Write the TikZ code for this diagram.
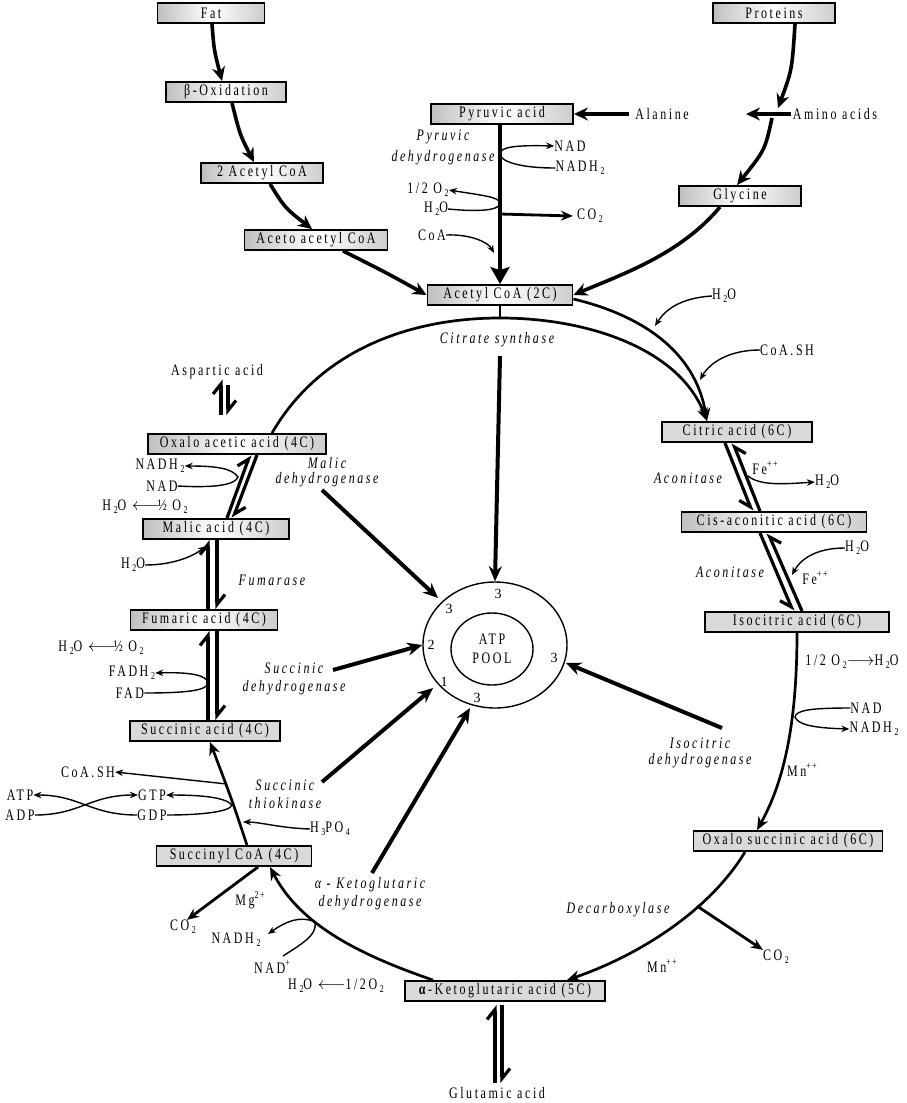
\documentclass[tikz,border=0pt]{standalone}
\usepackage{fontspec}
\setmainfont{Liberation Serif}[FakeStretch=0.75,LetterSpace=16]
\newfontfamily\numfont{Liberation Serif}
\usetikzlibrary{arrows.meta,shapes.geometric,calc}
\newcommand\mfs{\fontsize{16}{16}\selectfont}
\newcommand\lowtxt[1]{\,\raisebox{-0.45ex}{\fontsize{10.5}{10}\selectfont #1}}
\newcommand\hitxt[1]{\raisebox{1.0ex}{\fontsize{10.5}{10}\selectfont #1}}
\begin{document}
\begin{tikzpicture}[x=1pt,y=-1pt,
 every node/.style={font=\mfs, inner sep=0pt},
 gbox/.style={draw, line width=1.9pt, minimum height=20pt, left color=gray!50, right color=gray!40, middle color=white},
 fbox/.style={draw, line width=1.9pt, minimum height=20pt, fill=gray!30},
 it/.style={font=\mfs\itshape, align=center},
 bigarr/.style={line width=3.6pt, -{Stealth[length=14pt,width=13pt]}},
 medarr/.style={line width=2.8pt, -{Stealth[length=12pt,width=10pt]}},
 poolarr/.style={line width=4pt, -{Stealth[length=15pt,width=13pt]}},
 cyc/.style={line width=2.7pt},
 cyca/.style={line width=2.7pt, -{Stealth[length=13pt,width=11pt]}},
 thinarr/.style={line width=1.4pt, -{Stealth[length=8pt,width=6.5pt]}},
 harp/.style={line width=3.2pt, -{Straight Barb[harpoon,length=10pt,width=16pt]}},
 harps/.style={line width=3.2pt, -{Straight Barb[harpoon,swap,length=10pt,width=16pt]}},
 num/.style={font=\numfont\fontsize{14}{14}\selectfont},
]
\fill[white] (0,0) rectangle (906,1103);
\useasboundingbox (0,0) rectangle (906,1103);

% boxes
\node[gbox, minimum width=107] (fat) at (211,13) {Fat};
\node[gbox, minimum width=120] (box1) at (226,92) {β-Oxidation};
\node[gbox, minimum width=122] (twoac) at (262,173) {2 Acetyl CoA};
\node[gbox, minimum width=143] (aceto) at (316,240) {Aceto acetyl CoA};
\node[gbox, minimum width=142] (pyr) at (502,114) {Pyruvic acid};
\node[gbox, minimum width=122] (prot) at (774,13) {Proteins};
\node[gbox, minimum width=122] (gly) at (740,196) {Glycine};
\node[gbox, minimum width=145] (acoa) at (500,295) {Acetyl CoA (2C)};
\node[fbox, minimum width=150] (cit) at (737,432) {Citric acid (6C)};
\node[gbox, minimum width=185] (cis) at (774,522) {Cis-aconitic acid (6C)};
\node[fbox, minimum width=184] (iso) at (797,622) {Isocitric acid (6C)};
\node[fbox, minimum width=189] (oxs) at (788,841) {Oxalo succinic acid (6C)};
\node[fbox, minimum width=200] (akg) at (505,991) {\textbf{α}-Ketoglutaric acid (5C)};
\node[fbox, minimum width=155] (scoa) at (234,856) {Succinyl CoA (4C)};
\node[fbox, minimum width=150] (suc) at (205,731) {Succinic acid (4C)};
\node[gbox, minimum width=147] (fum) at (204,620) {Fumaric acid (4C)};
\node[gbox, minimum width=146] (mal) at (216,529) {Malic acid (4C)};
\node[gbox, minimum width=178] (oaa) at (237,444) {Oxalo acetic acid (4C)};

% labels
\node (ala) at (662,114) {Alanine};
\node (amino) at (835,114) {Amino acids};
\node (nad1) at (570,146) {NAD};
\node (nadh1) at (580,168) {NADH\lowtxt{2}};
\node (o2a) at (428,190) {1/2 O\lowtxt{2}};
\node (h2oa) at (436,209) {H\lowtxt{2}O};
\node (co2a) at (590,216) {CO\lowtxt{2}};
\node (coa1) at (432,235) {CoA};
\node[it] (pyrdh) at (443,147) {Pyruvic\\[5pt]dehydrogenase};
\node (h2ob) at (724,296) {H\lowtxt{2}O};
\node (coash) at (787,350) {CoA.SH};
\node[it] (citsyn) at (497,340) {Citrate synthase};
\node (asp) at (217,372) {Aspartic acid};
\node (fe1) at (765,468) {Fe\hitxt{++}};
\node (h2oc) at (827,482) {H\lowtxt{2}O};
\node[it] (acon1) at (688,478) {Aconitase};
\node (h2od) at (857,548) {H\lowtxt{2}O};
\node (fe2) at (815,578) {Fe\hitxt{++}};
\node[it] (acon2) at (730,572) {Aconitase};
\node (o2b) at (852,662) {1/2 O\lowtxt{2}$\longrightarrow$H\lowtxt{2}O};
\node (nad2) at (866,708) {NAD};
\node (nadh2) at (874,729) {NADH\lowtxt{2}};
\node (mn1) at (802,770) {Mn\hitxt{++}};
\node[it] (isodh) at (700,753) {Isocitric\\dehydrogenase};
\node[it] (decarb) at (618,910) {Decarboxylase};
\node (co2b) at (776,957) {CO\lowtxt{2}};
\node (mn2) at (662,966) {Mn\hitxt{++}};
\node (glu) at (497,1093) {Glutamic acid};
\node[it] (akgdh) at (370,894) {α - Ketoglutaric\\[2pt]dehydrogenase};
\node (mg) at (250,900) {Mg\hitxt{2+}};
\node (co2c) at (183,927) {CO\lowtxt{2}};
\node (nadh3) at (236,940) {NADH\lowtxt{2}};
\node (nadp) at (272,967) {NAD\hitxt{+}};
\node (h2oe) at (336,986) {H\lowtxt{2}O $\longleftarrow$1/2O\lowtxt{2}};
\node (h3po4) at (330,829) {H\lowtxt{3}PO\lowtxt{4}};
\node[it] (thio) at (285,794) {Succinic\\[2pt]thiokinase};
\node (gtp) at (152,795) {GTP};
\node (gdp) at (152,815) {GDP};
\node (atp) at (20,795) {ATP};
\node (adp) at (20,815) {ADP};
\node (coash2) at (88,772) {CoA.SH};
\node (fadh) at (132,673) {FADH\lowtxt{2}};
\node (fad) at (130,693) {FAD};
\node (h2of) at (101,648) {H\lowtxt{2}O $\longleftarrow$\kern-2pt½ O\lowtxt{2}};
\node[it] (sucdh) at (294,679) {Succinic\\[2pt]dehydrogenase};
\node[it] (fumase) at (272,580) {Fumarase};
\node (h2og) at (133,565) {H\lowtxt{2}O};
\node[it] (maldh) at (327,472) {Malic\\[-1pt]dehydrogenase};
\node (nadh4) at (160,466) {NADH\lowtxt{2}};
\node (nad4) at (162,486) {NAD};
\node (h2oh) at (145,507) {H\lowtxt{2}O $\longleftarrow$\kern-2pt½ O\lowtxt{2}};

% ATP pool
\node[ellipse, draw, line width=1.4pt, minimum width=144, minimum height=126] (pool) at (495,645) {};
\node[ellipse, draw, line width=1.4pt, minimum width=82, minimum height=72, align=center] (inner) at (492,649) {ATP\\[3pt]POOL};
\node[num] (p1) at (498,594) {3};
\node[num] (p2) at (449,609) {3};
\node[num] (p3) at (431,645) {2};
\node[num] (p4) at (444,682) {1};
\node[num] (p5) at (477,698) {3};
\node[num] (p6) at (554,658) {3};

% coordinates
\coordinate (top) at (500,318);
\coordinate (cs) at (500,356);
\coordinate (oaaT) at ([xshift=35pt]oaa.north);
\coordinate (citT) at ([xshift=-30pt]cit.north);

% fat chain
\draw[bigarr] ([xshift=1pt]fat.south) .. controls (214,50) .. ([xshift=-4pt]box1.north);
\draw[bigarr] ([xshift=6pt]box1.south) .. controls (240,135) .. ([xshift=-8pt]twoac.north);
\draw[bigarr] ([xshift=8pt]twoac.south) .. controls (285,208) .. ([xshift=-4pt]aceto.north);
\draw[bigarr] ([xshift=27pt]aceto.south) .. controls (385,272) .. (acoa.west);

% proteins
\coordinate (aj) at (778,108);
\coordinate (aa) at (772,118);
\draw[bigarr] ([xshift=21pt]prot.south) .. controls (792,70) .. (aj);
\draw[bigarr] ([xshift=-2pt]amino.west) -- (746,114);
\draw[bigarr] (aa) .. controls (765,150) .. ([xshift=-3pt]gly.north);
\draw[bigarr] ([xshift=-20pt]gly.south) .. controls (680,255) and (620,275) .. (acoa.east);
\draw[bigarr] ([xshift=-6pt]ala.west) -- (pyr.east);

% pyruvic
\draw[line width=3.6pt, -{Stealth[length=17pt,width=19pt,inset=3pt]}] (pyr.south -| acoa.north) -- (acoa.north);
\draw[thinarr] (nadh1.west) .. controls (515,168) and (500,160) .. (500,154) .. controls (500,147) and (515,145) .. (nad1.west);
\draw[thinarr] (h2oa.east) .. controls (490,213) and (500,208) .. (500,203) .. controls (500,197) and (480,195) .. (o2a.east);
\draw[medarr] (500,214) -- ([xshift=-4pt]co2a.west);
\draw[thinarr] (coa1.east) .. controls (470,234) and (488,242) .. (494,253);

% top of cycle
\draw[line width=2.4pt] (acoa.south) -- (top);
\draw[cyc] (oaaT) .. controls (320,350) and (410,318) .. (top);
\draw[cyca] (top) .. controls (590,318) and (680,350) .. (citT);
\draw[cyca] ([yshift=-4pt]acoa.east) .. controls (640,315) and (695,350) .. (citT);
\draw[thinarr] (h2ob.west) .. controls (680,298) and (665,310) .. (655,326);
\draw[thinarr] (coash.west) .. controls (730,350) and (710,362) .. (700,380);
\draw[poolarr] (cs) -- (pool.north);

% aconitase
\draw[harps] ([xshift=-12pt]cit.south) -- ([xshift=-22pt]cis.north);
\draw[harps] ([xshift=-14pt]cis.north) -- ([xshift=-4pt]cit.south);
\draw[thinarr] (748,476) .. controls (760,486) and (785,484) .. (h2oc.west);
\draw[harps] ([xshift=-14pt]cis.south) -- ([xshift=-4pt]iso.north);
\draw[harps] ([xshift=5pt]iso.north) -- ([xshift=-6pt]cis.south);
\draw[thinarr] (h2od.west) .. controls (815,548) and (800,560) .. (792,575);

% isocitric -> oxalosuccinic
\draw[cyca] (iso.south) .. controls (797,720) and (785,780) .. ([xshift=-31pt]oxs.north);
\draw[thinarr] (nad2.west) .. controls (812,708) and (796,710) .. (795,717) .. controls (798,725) and (815,728) .. (nadh2.west);

% oxalosuccinic -> akg
\draw[cyca] ([xshift=-43pt]oxs.south) .. controls (710,910) and (640,955) .. ([xshift=62pt]akg.north);
\draw[medarr] (697,906) -- (co2b.north west);

% akg -> succinyl
\draw[cyca] ([xshift=-72pt]akg.north) .. controls (360,955) and (300,925) .. ([xshift=36pt]scoa.south);
\draw[thinarr] (283,956) .. controls (300,945) and (318,935) .. (315,922) .. controls (300,915) and (285,922) .. (268,934);
\draw[medarr] ([xshift=24pt]scoa.south) -- ([xshift=4pt]co2c.north);

% succinyl -> succinic
\draw[cyca] ([xshift=13pt]scoa.north) .. controls (232,800) .. ([xshift=5pt]suc.south);
\draw[thinarr] (227,784) -- (coash2.east);
\draw[thinarr] (gdp.east) .. controls (200,815) and (230,812) .. (232,805) .. controls (225,797) and (200,795) .. (gtp.east);
\draw[thinarr] (adp.east) .. controls (80,815) and (90,795) .. (gtp.west);
\draw[thinarr] (gdp.west) .. controls (90,815) and (80,795) .. (atp.east);
\draw[thinarr] (h3po4.west) .. controls (280,828) and (260,822) .. (243,822);

% succinic <-> fumaric
\draw[harp] ([xshift=3pt]suc.north) -- ([xshift=4pt]fum.south);
\draw[harp] ([xshift=13pt]fum.south) -- ([xshift=12pt]suc.north);
\draw[thinarr] (fad.east) .. controls (190,693) and (207,690) .. (208,683) .. controls (207,675) and (190,672) .. (fadh.east);

% fumaric <-> malic
\draw[harp] ([xshift=4pt]fum.north) -- ([xshift=-8pt]mal.south);
\draw[harp] ([xshift=1pt]mal.south) -- ([xshift=13pt]fum.north);
\draw[thinarr] (h2og.east) .. controls (175,565) and (195,555) .. (206,546);

% malic <-> oxaloacetic
\draw[harp] ([xshift=11pt]mal.north) -- ([xshift=13pt]oaa.south);
\draw[harp] ([xshift=20pt]oaa.south) -- ([xshift=17pt]mal.north);
\draw[thinarr] (nad4.east) .. controls (215,488) and (235,485) .. (238,477) .. controls (232,468) and (215,466) .. (nadh4.east);

% aspartic
\coordinate (aspL) at (221,415);
\coordinate (aspR) at (228,415);
\draw[harp] (aspL) -- (asp.south -| aspL);
\draw[harp] ([yshift=-6pt]asp.south -| aspR) -- (aspR);

% glutamic
\coordinate (gluL) at (495,1083);
\coordinate (gluR) at (502,1083);
\draw[harp] (gluL) -- ([yshift=-3pt]akg.south -| gluL);
\draw[harp] ([yshift=-3pt]akg.south -| gluR) -- (gluR);

% arrows into pool
\coordinate (m1) at (322,490);
\coordinate (m2) at (333,670);
\coordinate (m3) at (322,782);
\coordinate (m4) at (372,873);
\coordinate (m5) at (722,728);
\coordinate (t1) at (438,598);
\coordinate (t3) at (433,688);
\coordinate (t4) at (470,708);
\coordinate (t5) at (566,663);
\draw[poolarr] (m1) -- (t1);
\draw[poolarr] (m2) -- (pool.west);
\draw[poolarr] (m3) -- (t3);
\draw[poolarr] (m4) -- (t4);
\draw[poolarr] (m5) -- (t5);
\end{tikzpicture}
\end{document}
